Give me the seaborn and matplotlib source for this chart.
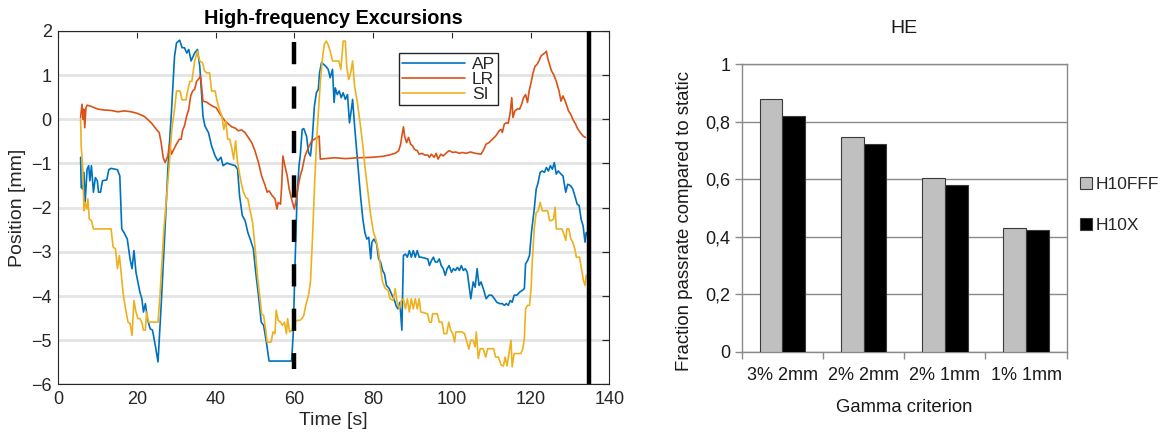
import numpy as np
import pandas as pd
import matplotlib
matplotlib.use("Agg")
import matplotlib.pyplot as plt
from matplotlib.lines import Line2D
from matplotlib.patches import Patch
import seaborn as sns

# ---------------- data: left panel (position traces) ----------------
AP_t = [5.75, 5.9, 6.3, 6.6, 6.9, 7.4, 7.8, 8.1, 8.5, 9.0, 9.5, 10.0, 10.3, 10.8, 11.3, 12.4, 12.9, 13.5, 15.1, 15.7,
        16.2, 16.75, 17.6, 18.3, 18.8, 19.3, 19.8, 20.3, 20.8, 21.3, 21.7, 22.2, 22.7, 23.4, 24.0, 24.7, 25.4, 26.2,
        27.1, 27.9, 28.8, 29.6, 30.1, 30.9, 31.5, 32.1, 32.7, 33.2, 33.8, 34.7, 35.4,
        36.0, 36.5, 36.8, 37.3, 38.2, 39.0, 39.9, 40.6, 41.4, 41.9, 42.9, 43.9, 45.0, 45.6, 46.1, 46.8, 47.5, 48.2,
        48.8, 49.6, 50.2, 50.9, 51.6, 52.2, 52.9, 53.6, 59.3, 59.7, 60.2, 60.7, 61.2, 61.5, 62.0, 62.4, 63.1, 63.6,
        64.1, 64.6, 65.1, 65.6, 66.1, 66.4, 66.9, 67.5, 68.0, 68.6, 69.1, 69.7, 70.1, 70.4, 70.9, 71.4, 71.9, 72.4,
        72.95, 73.5, 74.0, 74.5, 74.8, 75.3, 75.8, 76.3, 76.8, 77.4, 77.9, 78.4, 78.9, 79.4, 79.7, 80.2, 80.9, 81.4,
        81.9, 82.4, 82.9, 83.4, 84.1, 84.8, 85.3, 85.8, 86.3, 86.8, 87.3, 87.7, 88.2, 88.7, 89.2, 89.7, 90.2, 90.7,
        91.2, 91.7, 92.2, 93.9, 94.3, 94.8, 95.3, 95.8, 96.3, 96.8, 97.3, 97.8, 98.3, 98.8, 99.3, 99.9, 100.4, 100.9,
        101.4, 101.9, 102.4, 102.9, 103.4, 103.9, 104.4, 104.8, 105.4, 105.9, 106.4, 106.9, 107.4, 108.1, 108.7,
        109.4, 110.1, 110.8, 111.4, 112.1, 112.8, 113.3, 113.8, 114.3, 114.8, 115.3, 115.8, 116.5, 117.2, 117.9,
        118.4, 118.7, 119.2, 119.7, 120.2, 120.9, 121.4, 121.9, 122.4, 122.95, 123.5, 124.0, 124.5, 125.0, 125.5,
        126.0, 126.5, 127.0, 127.7, 128.2, 128.9, 129.4, 130.1, 130.7, 131.2, 131.8, 132.3, 132.8, 133.3, 133.8,
        134.1, 134.5]
AP_v = [-0.86, -1.54, -1.58, -1.2, -1.88, -1.13, -1.05, -1.39, -1.05, -1.65, -1.32, -1.39, -1.65, -1.65, -1.39,
        -1.37, -1.14, -1.11, -1.14, -1.28, -2.48, -2.56, -2.71, -3.16, -3.38, -2.97, -3.46, -3.68, -3.91, -4.06,
        -4.36, -4.17, -4.51, -4.74, -4.77, -5.11, -5.49, -4.21, -2.63, -1.13, 0.15, 1.43, 1.73, 1.79, 1.62, 1.62,
        1.5, 1.58, 1.32, 1.5, 1.58,
        1.2, 0.53, 0.08, -0.15, -0.3, -0.6, -0.83, -0.94, -0.86, -1.05, -0.99, -1.02, -1.05, -1.13, -1.73, -2.18,
        -2.29, -2.56, -2.71, -2.93, -3.46, -3.98, -4.59, -4.66, -5.04, -5.47, -5.47, -4.89, -3.23, -1.73, -1.05,
        -0.83, -0.23, -0.21, -0.38, -0.75, -0.83, -0.38, 0.3, 0.6, 0.68, 1.05, 1.28, 1.24, 1.2, 1.13, 0.94, 1.13,
        0.38, 0.71, 0.56, 0.64, 0.49, 0.6, 0.45, 0.56, -0.08, 0.23, 0.45, -0.15, -0.68, -1.2, -1.73, -2.26, -2.56,
        -2.71, -2.67, -3.16, -2.78, -2.71, -2.82, -3.16, -3.23, -3.42, -3.5, -3.76, -3.83, -3.98, -4.06, -4.21,
        -4.29, -4.14, -4.77, -3.08, -3.05, -3.12, -2.97, -3.12, -2.97, -3.12, -2.97, -3.12, -3.12, -3.16, -3.31,
        -3.2, -3.12, -3.23, -3.23, -3.16, -3.31, -3.38, -3.53, -3.38, -3.31, -3.46, -3.38, -3.42, -3.35, -3.42,
        -3.31, -3.42, -3.38, -3.46, -3.8, -4.06, -3.68, -3.8, -3.38, -3.76, -3.68, -3.87, -4.06, -3.98, -3.98,
        -4.06, -4.14, -4.17, -4.17, -4.21, -4.17, -4.21, -4.1, -4.14, -3.98, -3.98, -3.91, -3.87, -3.83, -3.27,
        -3.2, -3.08, -2.56, -2.03, -1.58, -1.43, -1.2, -1.17, -1.2, -1.09, -1.17, -1.05, -1.13, -0.98, -1.24,
        -1.17, -1.24, -1.28, -1.65, -1.47, -1.5, -1.58, -1.73, -1.92, -1.95, -2.26, -2.41, -2.78, -2.56, -2.63]

LR_t = [5.75, 6.1, 6.4, 6.6, 6.8, 7.1, 7.4, 8.5, 9.3, 10.2, 11.8, 13.5, 15.2, 16.9, 18.6, 20.3, 22.0, 23.7, 25.0,
        25.7, 26.2, 26.7, 27.2, 27.9, 28.3, 28.8, 29.4, 30.1, 30.8, 31.3, 31.6, 32.1, 32.7, 33.2, 33.7, 34.2, 34.7,
        35.2, 35.6, 36.2, 36.5, 36.8, 37.7, 38.5, 39.4, 40.2, 40.9, 41.6, 42.4, 43.3, 44.1, 45.0, 45.8, 46.6, 47.5,
        48.3, 49.2, 50.0, 50.9, 51.7, 52.6, 53.1, 53.6, 54.4, 55.1, 55.6, 55.9, 56.5, 56.8, 57.1, 57.6, 58.2, 58.7,
        59.3, 60.0, 60.5, 61.0, 61.5, 62.0, 62.7, 63.6, 64.4, 65.3, 66.3, 66.6, 67.8, 70.3, 73.0, 76.3, 79.7, 82.3,
        84.0, 85.6, 86.5, 87.0, 87.3, 87.7, 88.0, 88.5, 89.0, 89.5, 90.0, 90.5, 91.2, 91.7, 92.4, 93.1, 93.9, 94.3,
        94.8, 95.5, 96.0, 96.5, 97.2, 97.8, 98.7, 99.3, 100.2, 101.0, 101.9, 102.7, 103.6, 104.7, 106.0, 107.4,
        108.1, 108.7, 109.4, 110.3, 111.1, 112.0, 112.5, 112.8, 113.3, 113.8, 114.3, 114.8, 115.2, 115.5, 116.0,
        116.7, 117.2, 117.7, 118.2, 118.7, 119.2, 119.6, 120.1, 120.6, 121.1, 121.6, 122.1, 122.6, 123.1, 123.6,
        124.0, 124.3, 124.8, 125.3, 125.8, 126.5, 127.2, 127.7, 128.2, 128.9, 129.6, 130.2, 130.7, 131.4, 131.9,
        132.6, 133.3, 133.9]
LR_v = [0.04, 0.34, 0.0, 0.23, -0.19, 0.26, 0.32, 0.29, 0.26, 0.23, 0.21, 0.2, 0.17, 0.19, 0.17, 0.13, 0.06, -0.08,
        -0.23, -0.3, -0.53, -0.86, -0.98, -0.83, -0.56, -0.79, -0.68, -0.56, -0.45, -0.45, -0.26, -0.15, 0.08, 0.23,
        0.53, 0.64, 0.68, 0.86, 0.9, 0.98, 0.71, 0.41, 0.39, 0.34, 0.29, 0.26, 0.15, 0.06, -0.04, -0.11, -0.17,
        -0.2, -0.26, -0.24, -0.3, -0.41, -0.53, -0.71, -0.98, -1.28, -1.5, -1.65, -1.62, -1.73, -1.8, -2.03, -1.88,
        -1.92, -1.5, -0.83, -1.05, -1.28, -1.58, -1.8, -2.03, -1.8, -1.5, -1.28, -1.13, -0.83, -0.64, -0.49, -0.44,
        -0.38, -0.9, -0.89, -0.87, -0.89, -0.87, -0.86, -0.84, -0.81, -0.77, -0.71, -0.56, -0.38, -0.17, -0.38,
        -0.53, -0.41, -0.56, -0.6, -0.68, -0.71, -0.79, -0.77, -0.81, -0.81, -0.86, -0.79, -0.86, -0.77, -0.9,
        -0.79, -0.83, -0.75, -0.71, -0.75, -0.74, -0.77, -0.75, -0.77, -0.74, -0.77, -0.79, -0.68, -0.56, -0.53,
        -0.45, -0.38, -0.26, -0.23, -0.3, -0.11, -0.08, -0.09, 0.15, 0.49, 0.04, 0.19, 0.24, 0.23, 0.34, 0.49, 0.56,
        0.38, 0.64, 0.83, 1.05, 1.2, 1.24, 1.32, 1.43, 1.47, 1.5, 1.54, 1.39, 1.24, 1.09, 1.02, 0.86, 0.64, 0.41,
        0.53, 0.38, 0.19, 0.11, 0.0, -0.11, -0.21, -0.3, -0.38, -0.41]

SI_t = [5.75, 5.9, 6.3, 6.6, 6.9, 7.3, 7.6, 7.95, 8.5, 9.0, 13.5, 14.0, 14.6, 15.1, 15.6, 16.1, 16.6, 17.3, 17.8,
        18.3, 18.8, 19.3, 19.8, 20.3, 20.8, 21.3, 21.7, 22.2, 22.5, 23.0, 25.4, 25.9, 26.4, 26.9, 27.6, 28.3, 28.9,
        29.6, 30.1, 31.0, 31.5, 32.5, 33.0, 33.5, 34.0, 34.7, 35.4, 36.0, 36.7, 37.2, 37.8, 38.5, 39.0, 39.9, 40.4,
        41.1, 41.6, 42.1, 42.6, 43.1, 43.6, 44.1, 44.6, 45.1, 45.6, 46.1, 46.6, 47.1, 47.7, 48.2, 48.7, 49.4, 50.0,
        50.7, 51.2, 51.7, 52.2, 52.7, 53.1, 54.1, 54.6, 55.1, 55.4, 55.9, 56.5, 57.0, 57.5, 58.0, 58.3, 58.8, 59.5,
        60.0, 60.7, 61.4, 61.9, 62.4, 62.9, 63.6, 64.1, 64.6, 65.1, 65.6, 66.1, 66.6, 67.1, 67.6, 68.1, 68.6, 69.1,
        69.7, 70.4, 71.3, 71.8, 72.1, 72.4, 72.95, 73.3, 73.8, 74.3, 74.8, 75.3, 76.0, 76.7, 77.4, 78.0, 78.7, 79.4,
        80.1, 80.7, 81.4, 81.9, 82.4, 83.1, 83.8, 84.3, 85.1, 85.6, 86.1, 86.7, 87.2, 87.7, 88.2, 88.7, 89.2, 89.7,
        90.2, 90.7, 91.2, 91.7, 92.1, 93.8, 94.3, 94.8, 95.1, 96.3, 96.8, 97.5, 98.0, 98.7, 99.2, 99.7, 100.2,
        100.7, 101.0, 102.6, 103.2, 103.7, 104.3, 104.8, 105.4, 105.9, 106.2, 106.7, 107.2, 107.9, 108.6, 109.1,
        110.6, 111.1, 111.8, 112.5, 113.1, 113.5, 114.0, 114.3, 115.0, 115.3, 115.8, 117.5, 118.0, 118.4, 118.7,
        119.2, 119.7, 120.1, 120.4, 120.9, 121.4, 121.9, 122.4, 122.95, 124.3, 124.8, 125.3, 125.8, 126.2, 126.5,
        127.9, 128.4, 128.9, 129.2, 129.7, 130.2, 130.7, 131.2, 131.6, 132.4, 132.9, 133.4, 133.8, 134.1]
SI_v = [0.0, -0.6, -1.13, -2.07, -1.88, -2.03, -1.8, -2.26, -2.29, -2.48, -2.48, -2.89, -2.93, -3.38, -3.08, -3.53,
        -3.98, -4.36, -4.59, -4.62, -4.89, -4.1, -4.36, -4.51, -4.51, -4.59, -4.77, -4.77, -4.36, -4.59, -4.59,
        -3.98, -3.23, -2.48, -1.73, -0.98, -0.23, 0.23, 0.64, 0.64, 0.44, 0.44, 0.68, 0.86, 0.86, 1.32, 1.54, 1.32,
        1.28, 1.09, 1.05, 1.05, 0.64, 0.64, 0.41, 0.19, 0.08, -0.23, -0.04, -0.45, -0.45, -0.64, -0.9, -0.49,
        -0.98, -1.24, -1.47, -1.65, -1.77, -1.8, -2.03, -2.33, -2.86, -3.61, -3.98, -4.4, -4.44, -4.74, -5.04,
        -5.04, -4.81, -4.85, -4.32, -4.55, -4.59, -4.66, -4.59, -4.85, -4.51, -4.81, -4.77, -4.59, -4.55, -4.55,
        -4.51, -4.44, -4.21, -3.98, -3.68, -2.71, -1.58, -0.6, 0.15, 0.83, 1.35, 1.69, 1.77, 1.69, 1.54, 1.32,
        1.32, 1.32, 1.13, 1.43, 1.77, 1.77, 1.2, 0.9, 1.05, 1.32, 0.75, 0.38, -0.08, -0.6, -1.13, -1.65, -2.18,
        -2.56, -2.71, -3.01, -3.38, -3.68, -3.83, -3.87, -4.06, -4.1, -3.83, -4.14, -4.29, -4.1, -4.06, -4.29,
        -4.06, -4.36, -4.06, -4.29, -4.06, -4.29, -4.06, -4.36, -4.4, -4.59, -4.59, -4.4, -4.4, -4.59, -4.59,
        -4.85, -4.85, -4.59, -4.77, -4.85, -5.04, -4.81, -4.81, -4.85, -5.0, -5.2, -5.0, -5.0, -5.15, -4.81,
        -5.41, -5.19, -5.19, -5.38, -5.19, -5.19, -5.38, -5.38, -5.56, -5.58, -5.38, -5.58, -5.41, -5.0, -5.6,
        -5.3, -5.3, -5.19, -4.96, -4.29, -4.21, -4.21, -3.83, -3.23, -2.48, -2.11, -2.07, -1.88, -2.07, -2.07,
        -2.29, -2.29, -2.26, -1.99, -2.48, -2.48, -2.59, -2.74, -2.48, -2.48, -2.71, -2.78, -2.93, -3.12, -3.12,
        -3.38, -3.65, -3.76, -3.53]

SERIES = ["AP", "LR", "SI"]
SERIES_COLORS = ["#0072BD", "#D95319", "#EDB120"]
DASHED_TIME = 60
DASHED_SPAN = [1.75, -5.65]
SOLID_TIME = 134.8

# ---------------- data: right panel (bars) ----------------
CRITERIA = ["3% 2mm", "2% 2mm", "2% 1mm", "1% 1mm"]
H10FFF = [0.878, 0.745, 0.603, 0.429]
H10X = [0.820, 0.721, 0.578, 0.422]
DETECTORS = ["H10FFF", "H10X"]
DET_COLORS = ["#c0c0c0", "#000000"]
Y_TICKS = [0, 0.2, 0.4, 0.6, 0.8, 1.0]
Y_TICKLABELS = ["0", "0,2", "0,4", "0,6", "0,8", "1"]

sns.set_theme(style="white")
plt.rcParams["font.family"] = ["Liberation Sans", "DejaVu Sans"]

fig = plt.figure(figsize=(11.66, 4.34), dpi=100)
ax1 = fig.add_axes([0.0497, 0.1141, 0.4730, 0.8147])
ax2 = fig.add_axes([0.6361, 0.1896, 0.2787, 0.6629])

# ---------------- left panel ----------------
frames = []
for name, t, v in zip(SERIES, [AP_t, LR_t, SI_t], [AP_v, LR_v, SI_v]):
    frames.append(pd.DataFrame({"Time": t, "Position": v, "Axis": name}))
df = pd.concat(frames, ignore_index=True)
sns.lineplot(data=df, x="Time", y="Position", hue="Axis", hue_order=SERIES,
             palette=SERIES_COLORS, estimator=None, sort=False, lw=1.2,
             ax=ax1, legend=False)

ax1.plot([DASHED_TIME, DASHED_TIME], DASHED_SPAN, color="black", lw=3.2,
         linestyle=(0, (5.0, 5.0)), solid_capstyle="butt", zorder=5)
ax1.axvline(SOLID_TIME, color="black", lw=3.2, zorder=5)

ax1.set_xlim(0, 140)
ax1.set_ylim(-6, 2)
ax1.set_xticks(np.arange(0, 141, 20))
ax1.set_yticks(np.arange(-6, 3, 1))
ax1.yaxis.grid(True, color="#e4e4e4", lw=2.0)
ax1.xaxis.grid(False)
ax1.set_axisbelow(True)
for s in ax1.spines.values():
    s.set_color("#262626")
    s.set_linewidth(0.8)
ax1.tick_params(direction="in", top=True, right=True, length=5, width=0.8,
                labelsize=13, colors="#262626", pad=4.5)
ax1.set_xlabel("Time [s]", fontsize=14, color="#262626", labelpad=3)
ax1.set_ylabel("Position [mm]", fontsize=14, color="#262626", labelpad=4)
ax1.set_title("High-frequency Excursions", fontsize=14.3, fontweight="bold",
              color="black", pad=5)
handles = [Line2D([0], [0], color=c, lw=1.2) for c in SERIES_COLORS]
leg = ax1.legend(handles, SERIES, loc="upper left", bbox_to_anchor=(0.618, 0.9375),
                 fontsize=12.5, handlelength=3.6, handletextpad=0.4,
                 labelspacing=0.0, borderpad=0.2, borderaxespad=0,
                 frameon=True, fancybox=False, framealpha=1)
leg.get_frame().set_edgecolor("#262626")
leg.get_frame().set_linewidth(1.0)

# ---------------- right panel ----------------
df2 = pd.DataFrame({
    "criterion": CRITERIA * 2,
    "value": H10FFF + H10X,
    "detector": [DETECTORS[0]] * len(CRITERIA) + [DETECTORS[1]] * len(CRITERIA),
})
sns.barplot(data=df2, x="criterion", y="value", hue="detector", hue_order=DETECTORS,
            palette=DET_COLORS, width=0.56, gap=0, edgecolor="#3a3a3a",
            linewidth=0.8, saturation=1, ax=ax2, legend=False, zorder=3)
ax2.set_xlim(-0.5, len(CRITERIA) - 0.5)
ax2.set_ylim(0, 1)
ax2.set_yticks(Y_TICKS)
ax2.set_yticklabels(Y_TICKLABELS)
ax2.yaxis.grid(True, color="#8a8a8a", lw=1.0, zorder=0)
ax2.xaxis.grid(False)
ax2.set_axisbelow(True)
for s in ax2.spines.values():
    s.set_color("#8a8a8a")
    s.set_linewidth(1.0)
ax2.set_xticks(np.arange(-0.5, len(CRITERIA), 1.0), minor=True)
ax2.tick_params(axis="x", which="major", length=0, pad=11, labelsize=13, colors="#1a1a1a")
ax2.tick_params(axis="x", which="minor", direction="out", length=5, width=1.0,
                color="#8a8a8a", bottom=True)
ax2.tick_params(axis="y", which="major", direction="out", length=5, width=1.0,
                color="#8a8a8a", labelcolor="#1a1a1a", labelsize=13, left=True, pad=3)
ax2.set_xlabel("Gamma criterion", fontsize=13.3, color="#1a1a1a", labelpad=11)
ax2.set_ylabel("Fraction passrate compared to static", fontsize=13.4, color="#1a1a1a")
ax2.yaxis.set_label_coords(-0.15, 0.454)
ax2.set_title("HE", fontsize=14, color="#1a1a1a", pad=22)
bar_handles = [Patch(facecolor=c, edgecolor="#3a3a3a", lw=0.8) for c in DET_COLORS]
ax2.legend(bar_handles, DETECTORS, loc="center left", bbox_to_anchor=(1.02, 0.51),
           fontsize=12.5, frameon=False, handlelength=0.7, handleheight=0.7,
           handletextpad=0.2, labelspacing=1.45, borderaxespad=0)

fig.savefig("out.png", dpi=100)
